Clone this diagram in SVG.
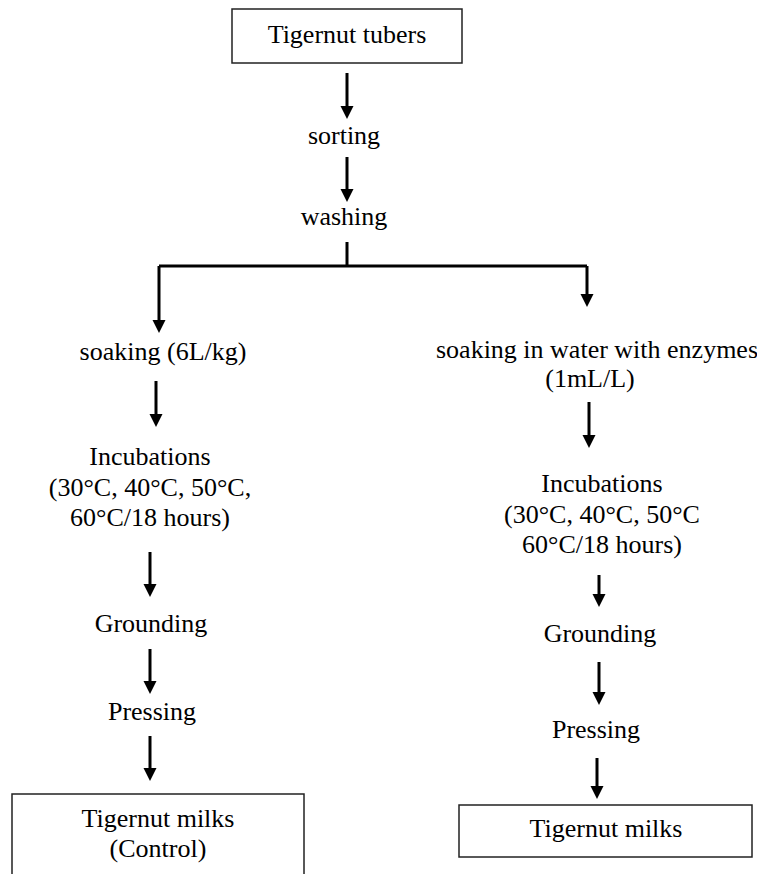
<svg xmlns="http://www.w3.org/2000/svg" width="757" height="874" viewBox="0 0 757 874">
<style>
text{font-family:"Liberation Serif","Times New Roman",serif;font-size:26px;fill:#000;text-anchor:middle}
.box{fill:#fff;stroke:#222;stroke-width:1.5}
.c{stroke:#000;stroke-width:3;fill:none}
</style>
<defs>
<marker id="ah" markerUnits="userSpaceOnUse" markerWidth="14" markerHeight="14" viewBox="0 0 14 14" refX="7" refY="13" orient="auto-start-reverse">
<path d="M0,0 L14,0 L7,13 Z" fill="#000" transform="rotate(0)"/>
</marker>
</defs>
<rect width="757" height="874" fill="#fff"/>
<g id="connectors">
<path class="c" d="M347,73 V106"/><path d="M340.5,106 L353.5,106 L347,119 Z"/>
<path class="c" d="M347,157 V189"/><path d="M340.5,189 L353.5,189 L347,202 Z"/>
<path class="c" d="M347,242 V266 M159,266 H587 M159,266 V320 M587,266 V294"/>
<path d="M152.5,320 L165.5,320 L159,333 Z"/>
<path d="M580.5,294 L593.5,294 L587,307 Z"/>
<path class="c" d="M156,381 V414"/><path d="M149.5,414 L162.5,414 L156,427 Z"/>
<path class="c" d="M150,552 V584"/><path d="M143.5,584 L156.5,584 L150,597 Z"/>
<path class="c" d="M150,649 V681"/><path d="M143.5,681 L156.5,681 L150,694 Z"/>
<path class="c" d="M150,736 V768"/><path d="M143.5,768 L156.5,768 L150,781 Z"/>
<path class="c" d="M589,402 V435"/><path d="M582.5,435 L595.5,435 L589,448 Z"/>
<path class="c" d="M599,575 V594"/><path d="M592.5,594 L605.5,594 L599,607 Z"/>
<path class="c" d="M599,662 V692"/><path d="M592.5,692 L605.5,692 L599,705 Z"/>
<path class="c" d="M597,758 V786"/><path d="M590.5,786 L603.5,786 L597,799 Z"/>
</g>
<g id="n-tubers"><rect class="box" x="232" y="9" width="230" height="54"/><text x="347" y="43">Tigernut tubers</text></g>
<g id="n-sorting"><text x="344" y="144">sorting</text></g>
<g id="n-washing"><text x="344" y="225">washing</text></g>
<g id="n-soak-l"><text x="163" y="360">soaking (6L/kg)</text></g>
<g id="n-soak-r"><text x="597" y="358">soaking in water with enzymes</text><text x="590" y="387">(1mL/L)</text></g>
<g id="n-incub-l"><text x="150" y="465">Incubations</text><text x="150" y="496">(30°C, 40°C, 50°C,</text><text x="150" y="526">60°C/18 hours)</text></g>
<g id="n-incub-r"><text x="602" y="492">Incubations</text><text x="602" y="523">(30°C, 40°C, 50°C</text><text x="602" y="553">60°C/18 hours)</text></g>
<g id="n-ground-l"><text x="151" y="632">Grounding</text></g>
<g id="n-ground-r"><text x="600" y="642">Grounding</text></g>
<g id="n-press-l"><text x="152" y="720">Pressing</text></g>
<g id="n-press-r"><text x="596" y="738">Pressing</text></g>
<g id="n-milk-l"><rect class="box" x="12" y="794" width="292" height="90"/><text x="158" y="827">Tigernut milks</text><text x="158" y="857">(Control)</text></g>
<g id="n-milk-r"><rect class="box" x="459" y="805" width="293" height="52"/><text x="606" y="837">Tigernut milks</text></g>
</svg>
